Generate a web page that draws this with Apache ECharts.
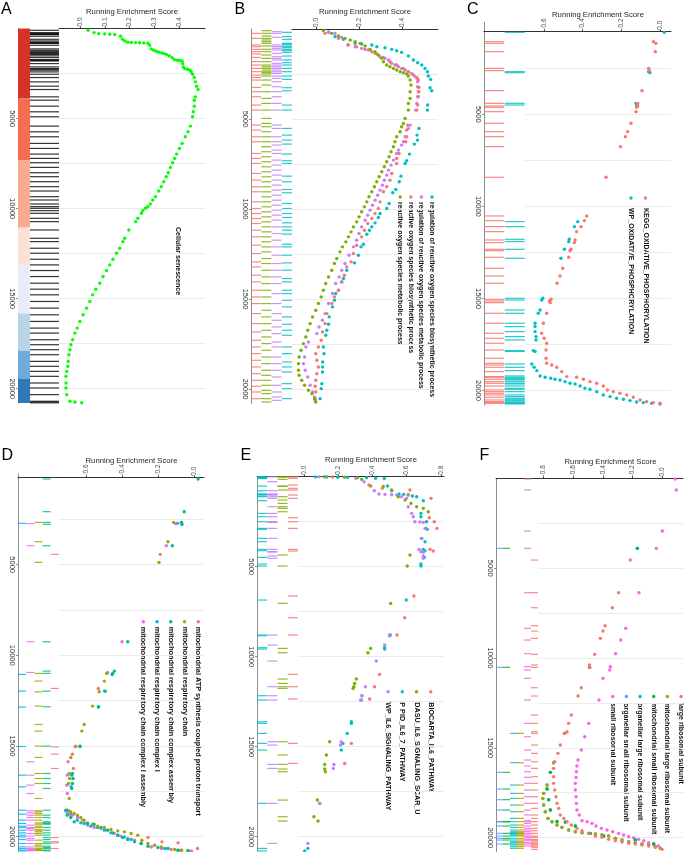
<!DOCTYPE html>
<html><head><meta charset="utf-8">
<script src="https://cdn.jsdelivr.net/npm/echarts@6.0.0/dist/echarts.min.js"></script>
<style>html,body{margin:0;padding:0;background:#fff;}#chart{width:685px;height:852px;}</style>
</head><body><div id="chart"></div>
<script>
// ================= DATA =================
const RANK_MAX = 20800;
const rankGridTicks = [2500,5000,7500,10000,12500,15000,17500,20000];
const rankLabelTicks = [5000,10000,15000,20000];
const esTicksA = [0,0.1,0.2,0.3,0.4];
const esTicksB = [0,0.2,0.4];
const esTicksC = [-0.6,-0.4,-0.2,0];
const esTicksD = [-0.6,-0.4,-0.2,0];
const esTicksE = [0,0.2,0.4,0.6,0.8];
const esTicksF = [-0.8,-0.6,-0.4,-0.2,0];
const axisTitle = 'Running Enrichment Score';

// ---- Panel A ----
const aName = 'Cellular senescence';
const aRank = [100,229,285,300,322,340,432,599,691,765,775,784,795,805,815,931,1134,1209,1264,1320,1357,1394,1449,1523,1615,1726,1763,1780,1800,1948,2133,2225,2262,2317,2410,2539,2724,2964,3204,3389,3796,3981,4313,4627,4905,5422,5737,6014,6383,6661,6975,7215,7455,7714,8010,8231,8509,8786,9026,9340,9525,9747,9895,9987,10117,10265,10542,10727,11189,11651,11836,12205,12482,12815,13129,13443,13776,14146,14478,14792,15162,15531,15901,16270,16640,16917,17287,17564,17841,18118,18488,18765,19042,19319,19689,19966,20336,20705,20742,20790];
const aES = [.033,.057,.076,.100,.120,.140,.163,.171,.181,.193,.207,.224,.240,.257,.273,.280,.287,.297,.307,.317,.329,.340,.349,.360,.371,.380,.391,.401,.411,.413,.415,.421,.433,.443,.448,.453,.460,.464,.469,.475,.464,.460,.460,.456,.453,.444,.435,.424,.411,.400,.389,.381,.373,.364,.355,.347,.337,.327,.317,.304,.293,.283,.273,.264,.253,.247,.233,.224,.197,.180,.173,.160,.147,.133,.120,.107,.093,.080,.064,.051,.040,.027,.013,.000,-.011,-.020,-.029,-.036,-.040,-.044,-.047,-.049,-.053,-.056,-.056,-.056,-.053,-.040,-.020,.007];
const aBarBreaks = [0,3890,7330,11060,13170,15830,17890,19440,20800];

// ---- Panel B ----
const bCyanName = 'regulation of reactive oxygen species biosynthetic process';
const bPurpleName = 'regulation of reactive oxygen species metabolic process';
const bRedName = 'reactive oxygen species biosynthetic process';
const bGreenName = 'reactive oxygen species metabolic process';
const bCyanRank = [185,426,574,797,834,889,982,1038,1130,1204,1297,1501,1723,1872,2001,2187,2372,2613,2798,3261,3428,4225,4503,5522,5893,6170,6393,6949,7319,7468,8172,8487,8913,9098,9691,9969,10247,10469,10766,10988,11174,11396,11952,12100,12563,12990,13397,13861,14046,14509,14694,15065,15435,15991,16399,16733,17011,17659,18030,18493,18771,19049,19698,19976,20531];
const bCyanES = [.059,.089,.128,.182,.212,.259,.282,.320,.351,.374,.397,.428,.451,.471,.490,.505,.516,.520,.531,.528,.536,.517,.516,.477,.468,.470,.456,.433,.420,.413,.394,.386,.370,.356,.339,.328,.297,.289,.274,.259,.248,.236,.220,.209,.197,.179,.143,.128,.120,.105,.092,.086,.077,.062,.059,.051,.046,.035,.038,.032,.031,.031,.028,.025,.020];
const bPurpleRank = [148,241,463,889,982,1075,1167,1353,1538,1631,1723,1909,2001,2094,2187,2279,2372,2465,2613,2742,2928,3206,3484,3762,4132,4503,5337,5522,5985,6263,6448,6726,6912,7282,7560,7838,8116,8394,8672,8950,9228,9506,9784,10062,10340,10618,10988,11359,11729,12100,12563,13027,13397,13768,14139,14694,15250,15806,16177,16547,16918,17381,17659,18215,18586,18956,19327,19790,20161,20439,20624];
const bPurpleES = [.059,.089,.120,.151,.182,.212,.243,.274,.297,.320,.336,.351,.366,.382,.397,.413,.428,.443,.456,.467,.471,.471,.474,.471,.467,.462,.436,.428,.413,.405,.397,.382,.374,.359,.348,.336,.328,.317,.308,.297,.286,.274,.262,.251,.240,.228,.212,.200,.189,.174,.154,.135,.120,.108,.092,.077,.059,.043,.031,.015,.005,-.034,-.046,-.052,-.057,-.049,-.037,-.026,-.015,-.006,-.003];
const bRedRank = [241,519,889,982,1130,1260,1390,1575,1816,2001,2187,2372,2557,2687,2835,3243,3484,3762,4225,4503,5337,5615,5985,6263,6912,7190,7468,8023,8394,8765,9043,9599,9969,10247,10525,10803,11174,11544,12007,12471,12934,13212,13675,14046,14509,14880,15250,15806,16362,16826,17288,17659,18030,18400,18771,19142,19512,19846,20161,20531];
const bRedES = [.043,.105,.148,.189,.228,.259,.282,.313,.343,.374,.405,.428,.451,.467,.474,.477,.477,.474,.471,.467,.425,.420,.420,.416,.385,.374,.374,.351,.343,.328,.313,.297,.289,.274,.259,.240,.225,.212,.189,.174,.163,.143,.132,.120,.105,.086,.074,.051,.043,.031,.025,.012,.000,.005,.012,.005,.000,-.003,.000,-.003];
const bGreenRank = [93,241,389,519,611,704,797,945,1130,1260,1445,1631,1816,2001,2094,2187,2279,2372,2427,2502,2613,2835,3113,3484,3854,4132,4503,4966,5244,5429,5707,5985,6263,6541,6819,7097,7375,7653,7931,8209,8487,8765,9043,9321,9599,9877,10154,10432,10710,10988,11266,11544,11822,12100,12378,12749,13027,13397,13768,14139,14509,14880,15250,15621,15991,16362,16733,17103,17474,17844,18215,18586,18956,19234,19512,19790,20068,20253,20531,20717];
const bGreenES = [.035,.074,.105,.135,.159,.182,.205,.228,.251,.274,.289,.305,.313,.328,.343,.359,.374,.390,.405,.420,.428,.436,.440,.436,.436,.428,.428,.413,.405,.397,.390,.374,.366,.359,.348,.339,.328,.317,.305,.293,.282,.271,.259,.246,.236,.225,.212,.200,.189,.174,.163,.151,.139,.123,.112,.097,.086,.074,.059,.046,.035,.025,.012,.000,-.015,-.026,-.037,-.046,-.057,-.068,-.077,-.080,-.080,-.077,-.065,-.052,-.034,-.018,-.006,.000];

// ---- Panel C ----
const cRedName = 'KEGG_OXIDATIVE_PHOSPHORYLATION';
const cCyanName = 'WP_OXIDATIVE_PHOSPHORYLATION';
const cRedRank = [1057,1148,1600,2505,2632,3718,4406,4550,4622,4858,5491,5944,6215,6758,8423,10523,10776,11102,11374,11826,11971,12333,12405,12767,13365,13781,14179,15048,15138,15229,15808,16351,16894,17166,17438,17800,18252,18524,18615,18741,18977,19248,19284,19393,19520,19610,19755,19972,20063,20153,20244,20371,20515,20606,20660,20697];
const cRedES = [-.034,-.021,-.024,-.059,-.055,-.093,-.115,-.115,-.121,-.124,-.150,-.167,-.179,-.205,-.279,-.379,-.391,-.408,-.431,-.439,-.443,-.460,-.465,-.472,-.503,-.517,-.532,-.563,-.572,-.567,-.586,-.603,-.612,-.599,-.586,-.589,-.589,-.586,-.560,-.534,-.508,-.482,-.431,-.396,-.362,-.327,-.293,-.272,-.241,-.207,-.172,-.138,-.103,-.069,-.034,0];
const cCyanRank = [551,2686,2740,4406,4496,10831,11102,11790,11917,12333,12822,14994,15084,15627,15808,16351,16532,16803,17075,17256,17836,17880,18560,18741,18922,19212,19284,19339,19393,19429,19520,19610,19646,19755,19882,19936,20063,20244,20334,20425,20479,20551,20624,20660,20697,20733];
const cCyanES = [.022,-.059,-.052,-.124,-.121,-.425,-.443,-.469,-.472,-.494,-.512,-.606,-.612,-.620,-.629,-.646,-.646,-.646,-.641,-.641,-.655,-.646,-.663,-.651,-.637,-.620,-.594,-.565,-.543,-.517,-.491,-.465,-.439,-.413,-.388,-.362,-.327,-.293,-.258,-.224,-.189,-.155,-.121,-.086,-.043,0];

// ---- Panel D ----
const dRedName = 'mitochondrial ATP synthesis coupled proton transport';
const dOliveName = 'mitochondrial respiratory chain';
const dGreenName = 'mitochondrial respiratory chain complex assembly';
const dBlueName = 'mitochondrial respiratory chain complex I';
const dMagentaName = 'mitochondrial respiratory chain complex I assembly';
const dGreenRank = [276,2079,2668,2778,3956,9255,10874,11003,11978,12843,15014,16523,16799,17075,17351,18547,18823,18952,19191,19246,19283,19320,19504,19651,19798,19927,20056,20166,20295,20387,20534,20608,20663,20755,20792];
const dGreenES = [.024,-.054,-.069,-.066,-.120,-.370,-.445,-.454,-.496,-.533,-.637,-.680,-.676,-.680,-.684,-.717,-.708,-.689,-.670,-.633,-.595,-.558,-.520,-.483,-.454,-.426,-.398,-.370,-.332,-.295,-.257,-.201,-.145,-.088,-.032];
const dOliveRank = [2668,3735,4876,11003,11426,12015,12806,13818,14186,15014,15640,16523,16799,17075,17903,18584,18639,18731,18823,18952,19099,19246,19320,19430,19504,19614,19688,19743,19835,19927,20203,20387,20479,20571,20663,20718,20755,20773];
const dOliveES = [-.113,-.145,-.195,-.488,-.501,-.530,-.567,-.614,-.627,-.661,-.689,-.698,-.695,-.702,-.698,-.698,-.689,-.670,-.652,-.633,-.614,-.595,-.567,-.539,-.501,-.464,-.426,-.389,-.351,-.314,-.291,-.257,-.220,-.182,-.145,-.107,-.069,-.032];
const dMagentaRank = [2742,3956,9255,10948,15879,16615,17167,17627,18584,18694,18823,18952,19099,19375,19504,19559,19651,19835,19982,20111,20203,20387,20571,20663,20718,20755,20792];
const dMagentaES = [-.101,-.154,-.402,-.483,-.704,-.708,-.712,-.708,-.717,-.708,-.680,-.652,-.623,-.595,-.558,-.520,-.483,-.445,-.408,-.370,-.332,-.295,-.238,-.182,-.126,-.069,-.013];
const dBlueRank = [2723,11058,11978,12862,15033,16615,17259,18547,18768,19099,19283,19430,19504,19651,19798,19927,20019,20166,20387,20571,20663,20755,20792];
const dBlueES = [-.092,-.458,-.500,-.535,-.638,-.684,-.687,-.708,-.689,-.652,-.614,-.577,-.539,-.501,-.464,-.426,-.389,-.351,-.295,-.238,-.163,-.088,-.032];
const dRedRank = [4434,11831,15051,15456,16247,20056,20295,20350,20663];
const dRedES = [-.188,-.535,-.665,-.680,-.674,-.257,-.178,-.088,.021];

// ---- Panel E ----
const eRedName = 'BIOCARTA_IL6_PATHWAY';
const eGreenName = 'DASU_IL6_SIGNALING_SCAR_U';
const eCyanName = 'P PID_IL6_7_PATHWAY';
const ePurpleName = 'WP_IL6_SIGNALING_PATHWAY';
const eCyanRank = [10,20,30,40,50,60,90,100,519,778,963,980,1000,1074,1111,1333,2037,2222,2500,2871,2926,3426,3611,4037,4111,4482,4852,4963,6852,8797,8834,9501,9575,12168,12408,13612,13705,14260,14816,15186,18150,20650,20790];
const eCyanES = [.068,.133,.197,.255,.314,.366,.419,.470,.489,.513,.556,.583,.610,.634,.659,.698,.684,.684,.717,.713,.721,.688,.708,.698,.708,.704,.684,.684,.598,.505,.501,.472,.472,.339,.335,.277,.277,.253,.228,.218,.092,.023,.004];
const eRedRank = [15,93,463,648,741,1019,1204,2278,2500,2871,4037,4130,6630,7834,8797,10982,11668,12353,14816,15927];
const eRedES = [.166,.304,.380,.458,.620,.610,.743,.733,.762,.778,.737,.756,.643,.589,.544,.442,.413,.384,.277,.238];
const eGreenRank = [5,25,148,519,540,741,1111,1296,1482,1667,1759,1945,4352,4963,7038,9538,9779,11242,11482,11668,11760,14723,15464,15983,16242,16390,17964,18890,19131];
const eGreenES = [.119,.236,.337,.390,.464,.513,.552,.591,.626,.659,.698,.727,.620,.604,.507,.390,.374,.306,.296,.292,.287,.150,.131,.121,.121,.125,.078,.058,.082];
const ePurpleRank = [8,278,778,963,980,1000,1019,1111,1204,1667,2037,2222,2500,2520,2540,2871,3426,4037,4167,4180,4408,4537,8797,9353,10242,11668,12168,12408,14723,14909,15983,16205,18150,20372];
const ePurpleES = [.088,.351,.411,.439,.474,.513,.542,.571,.600,.610,.630,.639,.649,.678,.698,.708,.688,.673,.684,.698,.698,.698,.501,.472,.423,.359,.339,.331,.218,.214,.175,.172,.092,.023];

// ---- Panel F ----
const fRedName = 'large ribosomal subunit';
const fOliveName = 'mitochondrial large ribosomal subunit';
const fGreenName = 'mitochondrial small ribosomal subunit';
const fCyanName = 'organellar large ribosomal subunit';
const fBlueName = 'organellar small ribosomal subunit';
const fMagentaName = 'small ribosomal subunit';
const fMagentaRank = [33,646,2929,3894,6363,8349,8999,9760,10483,10669,11132,12339,13638,14380,15122,15679,16013,16329,16644,16978,17350,17721,18092,18463,18741,19057,19113,19206,19354,19484,19577,19670,19763,19855,19948,20004,20097,20171,20282,20356,20468];
const fMagentaES = [.087,.094,0,-.040,-.157,-.246,-.280,-.314,-.350,-.354,-.399,-.426,-.495,-.522,-.545,-.567,-.574,-.578,-.580,-.585,-.585,-.580,-.578,-.574,-.558,-.540,-.506,-.473,-.446,-.410,-.372,-.334,-.294,-.260,-.226,-.193,-.159,-.125,-.092,-.058,-.025];
const fRedRank = [4547,6363,7198,8200,8497,8905,9796,10390,10520,11652,12116,13174,13638,14102,14195,14844,15308,15772,16143,16607,16978,17350,17721,18092,18371,18742,18927,19113,19298,19484,19614,19763,19911,19985,20097,20171,20245,20319,20356,20412,20468,20542,20653];
const fRedES = [-.215,-.294,-.336,-.385,-.399,-.417,-.455,-.489,-.489,-.545,-.567,-.612,-.630,-.641,-.657,-.686,-.702,-.724,-.731,-.731,-.731,-.724,-.715,-.708,-.697,-.686,-.663,-.641,-.612,-.574,-.540,-.495,-.450,-.406,-.361,-.316,-.271,-.226,-.182,-.137,-.092,-.047,-.002];
const fOliveRank = [14195,15828,17072,17536,17814,18186,18557,18928,19113,19298,19428,19577,19670,19726,19763,19800,19856,19911,20041,20134,20226,20282,20356,20412,20505,20597];
const fOliveES = [-.657,-.731,-.775,-.798,-.804,-.798,-.787,-.769,-.742,-.708,-.675,-.630,-.585,-.540,-.495,-.450,-.406,-.361,-.316,-.271,-.226,-.182,-.137,-.092,-.047,-.013];
const fGreenRank = [3894,10520,16366,17294,17887,18463,19100,19130,19354,19763,19911,20041,20134,20356];
const fGreenES = [-.168,-.489,-.753,-.775,-.764,-.753,-.708,-.652,-.585,-.484,-.394,-.316,-.182,-.058];
// organellar sets lie under the mitochondrial ones in the picture
const fCyanRank = fOliveRank, fCyanES = fOliveES;
const fBlueRank = fGreenRank, fBlueES = fGreenES;

// ================= STYLES / LAYOUT =================
const FONT = '"Liberation Sans", Arial, Helvetica, sans-serif';
const C = {red:'#F8766D', green4:'#7CAE00', cyan:'#00BFC4', purple:'#C77CFF',
  olive5:'#A3A500', green5:'#00BF7D', blue5:'#00B0F6', magenta5:'#E76BF3',
  olive6:'#B79F00', green6:'#00BA38', blue6:'#619CFF', magenta6:'#F564E3', lime:'#00FF00'};
const aBarColors = ['#D6322A','#F46D4E','#F8AB8E','#FCE2D6','#EAEDF7','#BAD4E7','#6FACD8','#3378B6'];

const panels = [
 {letter:'A', letterXY:[1,9.5], top:28.5, height:374.5, offset:0,
  es:{left:59,width:146,min:-0.084,max:0.503,ticks:esTicksA}, bar:{left:18,width:12}, rug:{left:30,width:29,band:29}, axisOverRug:false,
  series:[{name:aName, rank:aRank, es:aES, color:C.lime, rugColor:'#111'}],
  legend:{x:178,y:227,sp:0,textOff:0,dot:false,fs:7.1,order:[aName]}},
 {letter:'B', letterXY:[234.5,9.5], top:29, height:374.5, offset:0,
  es:{left:292,width:146,min:-0.11,max:0.565,ticks:esTicksB}, rug:{left:251,width:41,band:10}, axisOverRug:false,
  series:[{name:bCyanName,rank:bCyanRank,es:bCyanES,color:C.cyan},{name:bPurpleName,rank:bPurpleRank,es:bPurpleES,color:C.purple},
          {name:bRedName,rank:bRedRank,es:bRedES,color:C.red},{name:bGreenName,rank:bGreenRank,es:bGreenES,color:C.green4}],
  rugOrder:[bRedName,bGreenName,bPurpleName,bCyanName],
  legend:{x:432,y:197,sp:10.6,textOff:5,dot:true,fs:6.95,order:[bCyanName,bPurpleName,bRedName,bGreenName]}},
 {letter:'C', letterXY:[467,9.5], top:22.2, height:383, offset:-9.5,
  es:{left:525,width:146,min:-0.698,max:0.057,ticks:esTicksC}, rug:{left:484,width:41,band:20}, axisOverRug:true,
  series:[{name:cCyanName,rank:cCyanRank,es:cCyanES,color:C.cyan},{name:cRedName,rank:cRedRank,es:cRedES,color:C.red}],
  rugOrder:[cRedName,cCyanName],
  legend:{x:645.5,y:198,sp:14.5,textOff:10,dot:true,fs:7.0,order:[cRedName,cCyanName]}},
 {letter:'D', letterXY:[1.5,456], top:474, height:377, offset:-3.7,
  es:{left:59,width:145,min:-0.755,max:0.057,ticks:esTicksD}, rug:{left:18,width:41,band:8}, axisOverRug:true,
  series:[{name:dBlueName,rank:dBlueRank,es:dBlueES,color:C.blue5},{name:dMagentaName,rank:dMagentaRank,es:dMagentaES,color:C.magenta5},
          {name:dOliveName,rank:dOliveRank,es:dOliveES,color:C.olive5},{name:dGreenName,rank:dGreenRank,es:dGreenES,color:C.green5},
          {name:dRedName,rank:dRedRank,es:dRedES,color:C.red}],
  rugOrder:[dBlueName,dMagentaName,dOliveName,dGreenName,dRedName],
  legend:{x:198.3,y:621.7,sp:13.75,textOff:5,dot:true,fs:7.3,order:[dRedName,dOliveName,dGreenName,dBlueName,dMagentaName]}},
 {letter:'E', letterXY:[240.5,456], top:476.7, height:374.4, offset:0,
  es:{left:298,width:146,min:-0.035,max:0.819,ticks:esTicksE}, rug:{left:257,width:41,band:10}, axisOverRug:true,
  series:[{name:eCyanName,rank:eCyanRank,es:eCyanES,color:C.cyan},{name:ePurpleName,rank:ePurpleRank,es:ePurpleES,color:C.purple},
          {name:eGreenName,rank:eGreenRank,es:eGreenES,color:C.green4},{name:eRedName,rank:eRedRank,es:eRedES,color:C.red}],
  rugOrder:[eCyanName,ePurpleName,eGreenName,eRedName],
  legend:{x:430.7,y:691.7,sp:14.2,textOff:10.6,dot:true,fs:7.2,order:[eRedName,eGreenName,eCyanName,ePurpleName]}},
 {letter:'F', letterXY:[479.5,456], top:478.4, height:373.6, offset:0,
  es:{left:538,width:145,min:-0.836,max:0.139,ticks:esTicksF}, rug:{left:496,width:42,band:7}, axisOverRug:true,
  series:[{name:fCyanName,rank:fCyanRank,es:fCyanES,color:C.cyan},{name:fBlueName,rank:fBlueRank,es:fBlueES,color:C.blue6},
          {name:fMagentaName,rank:fMagentaRank,es:fMagentaES,color:C.magenta6},{name:fGreenName,rank:fGreenRank,es:fGreenES,color:C.green6},
          {name:fOliveName,rank:fOliveRank,es:fOliveES,color:C.olive6},{name:fRedName,rank:fRedRank,es:fRedES,color:C.red}],
  rugOrder:[fBlueName,fGreenName,fCyanName,fOliveName,fMagentaName,fRedName],
  legend:{x:681,y:696.5,sp:13.65,textOff:6.5,dot:true,fs:7.15,order:[fRedName,fOliveName,fGreenName,fCyanName,fBlueName,fMagentaName]}}
];

// ================= BUILD =================
const grids=[], xAxis=[], yAxis=[], series=[], graphic=[];
function addGrid(left, top, width, height){
  grids.push({left, top, width, height, containLabel:false, outerBoundsMode:'none'});
  return grids.length-1;
}
function rankAxis(gi, withLabels){
  return {gridIndex:gi, type:'value', inverse:true, min:0, max:RANK_MAX, position:'left',
    axisLine:{show:withLabels, onZero:false, lineStyle:{color:'#8c8c8c', width:1}},
    axisTick:{show:withLabels, length:2, customValues:rankLabelTicks, lineStyle:{color:'#8c8c8c'}},
    axisLabel:{show:withLabels, customValues:rankLabelTicks, rotate:-90, fontSize:7.5, color:'#333', margin:2,
      fontFamily:FONT, formatter:v=>String(v)},
    splitLine:{show:false}};
}
function hiddenRankAxis(gi){
  return {gridIndex:gi, type:'value', inverse:true, min:0, max:RANK_MAX, show:false, splitLine:{show:false}};
}

panels.forEach(P=>{
  const gEs = addGrid(P.es.left, P.top, P.es.width, P.height);
  xAxis.push({gridIndex:gEs, type:'value', position:'top', min:P.es.min, max:P.es.max, offset:P.offset,
    name:axisTitle, nameLocation:'middle', nameGap:13, nameMoveOverlap:false,
    nameTextStyle:{fontSize:7.7, color:'#262626', fontFamily:FONT},
    axisLine:{show:true, onZero:false, lineStyle:{color:'#333', width:1}},
    axisTick:{show:true, length:2, customValues:P.es.ticks, lineStyle:{color:'#333'}},
    axisLabel:{show:true, customValues:P.es.ticks, rotate:-90, fontSize:6.5, color:'#4d4d4d', margin:2,
      fontFamily:FONT, formatter:v=>v.toFixed(1)},
    splitLine:{show:false}});
  yAxis.push(hiddenRankAxis(gEs));

  let gBar = -1;
  if (P.bar){
    gBar = addGrid(P.bar.left, P.top, P.bar.width, P.height);
    xAxis.push({gridIndex:gBar, type:'value', min:0, max:1, show:false});
    yAxis.push(rankAxis(gBar, true));
  }
  const gRug = addGrid(P.rug.left, P.top, P.rug.width, P.height);
  const cats = P.rugOrder || P.series.map(s=>s.name);
  xAxis.push({gridIndex:gRug, type:'category', data:cats, position:'top', offset:P.offset, boundaryGap:true,
    axisLine:{show:P.axisOverRug, onZero:false, lineStyle:{color:'#333', width:1}},
    axisTick:{show:false}, axisLabel:{show:false}, splitLine:{show:false}});
  yAxis.push(P.bar ? hiddenRankAxis(gRug) : rankAxis(gRug, true));

  if (P.bar){
    series.push({type:'custom', xAxisIndex:gBar, yAxisIndex:gBar, silent:true, z:2,
      data: aBarBreaks.slice(0,-1).map((s,i)=>[s, aBarBreaks[i+1], i]),
      encode:{y:[0,1]},
      renderItem:(params, api)=>{
        const p0 = api.coord([0, api.value(0)]);
        const p1 = api.coord([1, api.value(1)]);
        return {type:'rect', shape:{x:p0[0], y:p0[1], width:p1[0]-p0[0], height:p1[1]-p0[1]},
          style:{fill:aBarColors[api.value(2)]}};
      }});
  }

  P.series.forEach((s, k)=>{
    const dot = {type:'scatter', name:s.name, xAxisIndex:gEs, yAxisIndex:gEs, silent:true, z:3,
      symbol:'circle', symbolSize:3.4, itemStyle:{color:s.color, opacity:1},
      data: s.rank.map((r,j)=>[s.es[j], r])};
    if (k===0){
      dot.markLine = {silent:true, z:1, symbol:['none','none'], animation:false, label:{show:false},
        lineStyle:{color:'#EBEBEB', width:1, type:'solid'}, emphasis:{disabled:true},
        data: rankGridTicks.map(v=>({yAxis:v}))};
    }
    series.push(dot);
    series.push({type:'scatter', name:s.name+' hits', xAxisIndex:gRug, yAxisIndex:gRug, silent:true, z:2,
      symbol:'rect', symbolSize:[P.rug.band, 1.2], itemStyle:{color:s.rugColor||s.color, opacity:0.85},
      data: s.rank.map(r=>[s.name, r])});
  });

  graphic.push({type:'text', x:P.letterXY[0], y:P.letterXY[1], silent:true,
    style:{text:P.letter, fontSize:16, fontFamily:FONT, fill:'#000', verticalAlign:'middle', textVerticalAlign:'middle'}});
  const L = P.legend, children=[];
  L.order.forEach((name,i)=>{
    const s = P.series.find(q=>q.name===name);
    if (L.dot) children.push({type:'circle', shape:{cx:0, cy:i*L.sp, r:1.7}, style:{fill:s.color}, silent:true});
    children.push({type:'text', x:L.textOff, y:i*L.sp, silent:true,
      style:{text:name, fontSize:L.fs, fontWeight:'bold', fontFamily:FONT, fill:'#111', align:'left', verticalAlign:'middle',
        textAlign:'left', textVerticalAlign:'middle'}});
  });
  graphic.push({type:'group', x:L.x, y:L.y, rotation:-Math.PI/2, silent:true, children});
});

const chart = echarts.init(document.getElementById('chart'), null, {renderer:'canvas'});
chart.setOption({
  animation:false, backgroundColor:'#ffffff',
  textStyle:{fontFamily:FONT},
  grid:grids, xAxis, yAxis, series, graphic
});
</script></body></html>
